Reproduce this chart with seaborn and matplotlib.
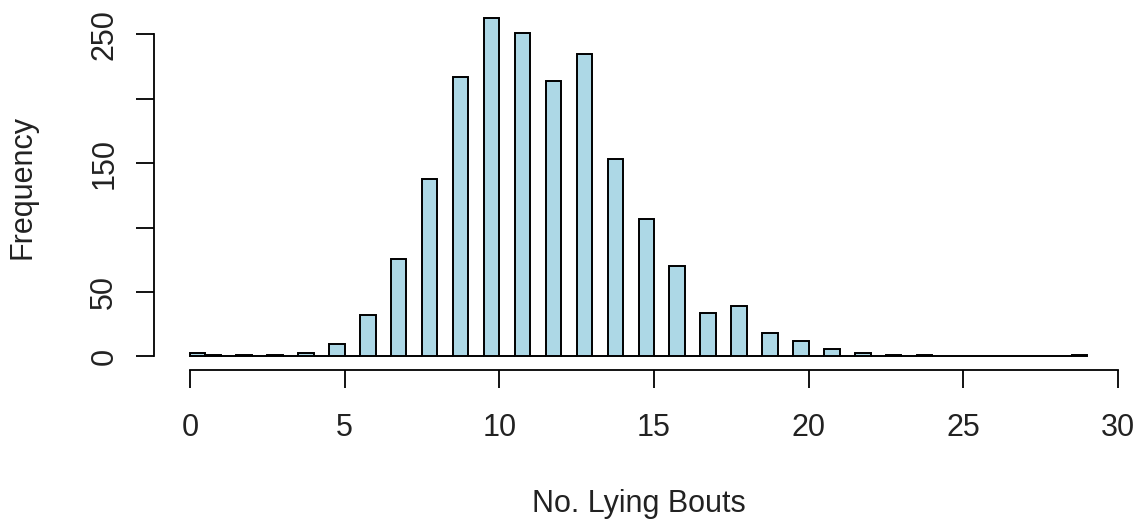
import numpy as np
import pandas as pd
import matplotlib
matplotlib.use("Agg")
import matplotlib.pyplot as plt
import seaborn as sns

# Data: number of lying bouts and their frequency
bouts = [0, 1, 2, 3, 4, 5, 6, 7, 8, 9, 10, 11, 12, 13, 14, 15, 16, 17, 18, 19,
         20, 21, 22, 23, 24, 25, 26, 27, 28, 29]
counts = [3, 1, 1, 1, 3, 10, 32, 76, 138, 217, 263, 251, 214, 235, 153, 107, 70, 34, 39, 18,
          12, 6, 3, 1, 1, 0, 0, 0, 0, 1]
x_ticks = [0, 5, 10, 15, 20, 25, 30]
y_ticks = [0, 50, 100, 150, 200, 250]
y_ticklabels = ["0", "50", "", "150", "", "250"]

sns.set_style("white")
plt.rcParams['font.family'] = ['Liberation Sans', 'DejaVu Sans']

# R-style hist: breaks every 0.5, right-closed (value k falls in (k-0.5, k], 0 in [0, 0.5])
bw = 0.5
b = np.array(bouts, dtype=float)
pos = np.where(b == 0, b + bw / 2, b - bw / 2)
df = pd.DataFrame({"pos": pos, "count": counts})
edges = np.arange(0, max(bouts) + bw / 2, bw).tolist()

fig = plt.figure(figsize=(11.44, 5.25), dpi=100)
W, H = 1144, 525
ax = fig.add_axes([154 / W, (H - 370) / H, (1123 - 154) / W, (370 - 4) / H])

sns.histplot(data=df, x="pos", weights="count", bins=edges, ax=ax,
             color="#ADD8E6", alpha=1, edgecolor="black", linewidth=1.4)

ax.set_xlim(-1.16, 30.16)
ax.set_ylim(-10.52, 273.52)
for s in ["top", "right"]:
    ax.spines[s].set_visible(False)
ax.spines["left"].set_bounds(0, 250)
ax.spines["bottom"].set_bounds(0, 30)
for s in ["left", "bottom"]:
    ax.spines[s].set_linewidth(1.3)
    ax.spines[s].set_color("black")

ax.set_xticks(x_ticks)
ax.set_xticklabels([str(t) for t in x_ticks])
ax.set_yticks(y_ticks)
ax.set_yticklabels(y_ticklabels, rotation=90, va="center")
ax.tick_params(axis="both", direction="out", length=13, width=1.3, colors="black",
               labelsize=22, left=True, bottom=True)
ax.tick_params(axis="x", pad=18)
ax.tick_params(axis="y", pad=12)
for lab in ax.get_xticklabels() + ax.get_yticklabels():
    lab.set_color("#222222")

ax.set_xlabel("No. Lying Bouts", fontsize=22, labelpad=33, color="#222222")
ax.set_ylabel("Frequency", fontsize=22, labelpad=37, color="#222222")
ax.grid(False)

fig.savefig("out.png", dpi=100)
